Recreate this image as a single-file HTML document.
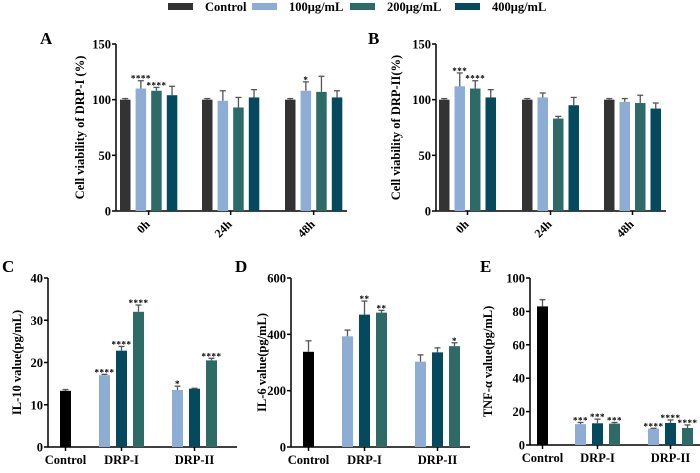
<!DOCTYPE html>
<html><head><meta charset="utf-8">
<style>
html,body{margin:0;padding:0;background:#fff;}
svg, svg text{font-family:"Liberation Serif","DejaVu Serif","Times New Roman",serif;font-weight:bold;}
</style></head>
<body>
<svg id="fig" width="700" height="468" viewBox="0 0 700 468" xmlns="http://www.w3.org/2000/svg"></svg>
<script>
const colors = ["#333333","#8eadd4","#2e6b66","#04495e","#000000"];
const legendLabels = ["Control","100μg/mL","200μg/mL","400μg/mL"];

// Panel A
const aCats = ["0h","24h","48h"];
const aMeans = [[100,110,108,104],[100,99,93,102],[100,108,107,102]];
const aErr = [[101,117,111,112],[101,108,102,109],[101,116,121,108]];
const aSig = [["","****","****",""],["","","",""],["","*","",""]];
const aTicks = [0,50,100,150];
// Panel B
const bMeans = [[100,112,110,102],[100,102,83,95],[100,98,97,92]];
const bErr = [[101,124,117,109],[101,106,85,102],[101,101,104,97]];
const bSig = [["","***","****",""],["","","",""],["","","",""]];
// Panel C
const cdeCats = ["Control","DRP-I","DRP-II"];
const cMeans = [[13.3],[17,22.8,32],[13.5,13.8,20.5]];
const cErr = [[13.6],[17.2,23.8,33.6],[14.4,13.9,21]];
const cSig = [[""],["****","****","****"],["*","","****"]];
const cTicks = [0,10,20,30,40];
// Panel D
const dMeans = [[338],[393,470,477],[303,336,358]];
const dErr = [[377],[415,518,485],[327,352,370]];
const dSig = [[""],["","**","**"],["","","*"]];
const dTicks = [0,200,400,600];
// Panel E
const eMeans = [[83],[12.5,13,12.8],[9.8,13.2,10.2]];
const eErr = [[87],[13.5,15.5,13.5],[10,15,12]];
const eSig = [[""],["***","***","***"],["****","****","****"]];
const eTicks = [0,20,40,60,80,100];

const svg = document.getElementById('fig');
const NS = "http://www.w3.org/2000/svg";
const FF = '"Liberation Serif","DejaVu Serif",serif';
function mk(tag, attrs, parent){
  const e = document.createElementNS(NS, tag);
  for (const k in attrs) e.setAttribute(k, attrs[k]);
  if (tag === 'text'){ e.setAttribute('font-family', FF); e.setAttribute('font-weight','bold'); }
  (parent||svg).appendChild(e);
  return e;
}

// Legend
const legX = [168,252,350,455];
legendLabels.forEach((lab,i)=>{
  const g = mk('g',{});
  
  
  mk('rect',{x:legX[i],y:3,width:25,height:7,fill:colors[i]},g);
  const t = mk('text',{x:legX[i]+37,y:11,'font-size':'12.5'},g);
  t.textContent = lab;
});

function panel(o){
  const g = mk('g',{});
  
  
  const ymax = o.ticks[o.ticks.length-1];
  const y = v => o.y0 - (v/ymax)*(o.y0-o.yTop);
  const L = mk('text',{x:o.letterX,y:o.letterY,'font-size':'17'},g);
  L.textContent = o.letter;
  
  
  const yt = mk('text',{x:o.titleX,y:(o.y0+o.yTop)/2,'font-size':'12.5','text-anchor':'middle',transform:`rotate(-90 ${o.titleX} ${(o.y0+o.yTop)/2})`},g);
  yt.textContent = o.title;
  
  
  mk('line',{x1:o.ax,y1:o.yTop,x2:o.ax,y2:o.y0,stroke:'#000','stroke-width':1.5},g);
  mk('line',{x1:o.ax,y1:o.y0,x2:o.axEnd,y2:o.y0,stroke:'#000','stroke-width':1.5},g);
  o.ticks.forEach(t=>{
    mk('line',{x1:o.ax-4,y1:y(t),x2:o.ax,y2:y(t),stroke:'#000','stroke-width':1.5},g);
    const tl = mk('text',{x:o.ax-5,y:y(t)+4.5,'font-size':'12.5','text-anchor':'end'},g);
    tl.textContent = t;
    
    
  });
  o.means.forEach((grp,gi)=>{
    grp.forEach((v,bi)=>{
      const x = o.groupX[gi] + bi*o.step;
      const ci = o.colorIdx[gi][bi];
      const bar = mk('rect',{x:x,y:y(v),width:o.bw,height:o.y0-y(v),fill:colors[ci]},g);
      
      
      const cx = x+o.bw/2, e = o.err[gi][bi];
      mk('line',{x1:cx,y1:y(v),x2:cx,y2:y(e),stroke:'#555','stroke-width':1.3},g);
      mk('line',{x1:cx-3,y1:y(e),x2:cx+3,y2:y(e),stroke:'#555','stroke-width':1.3},g);
      const s = o.sig[gi][bi];
      if (s){
        const st = mk('text',{x:cx,y:y(e)+1,'font-size':'9','text-anchor':'middle','letter-spacing':'0.5'},g);
        st.textContent = s;
        
        
      }
    });
    const center = o.groupX[gi] + ((grp.length-1)*o.step + o.bw)/2;
    mk('line',{x1:center,y1:o.y0,x2:center,y2:o.y0+4,stroke:'#000','stroke-width':1.5},g);
    let xl;
    if (o.rot){
      xl = mk('text',{x:center+2,y:o.y0+14,'font-size':'12','text-anchor':'end',transform:`rotate(-45 ${center+2} ${o.y0+14})`},g);
    } else {
      xl = mk('text',{x:center,y:o.y0+17,'font-size':'12.5','text-anchor':'middle'},g);
    }
    xl.textContent = o.cats[gi];
    
    
  });
}

const c4 = [[0,1,2,3],[0,1,2,3],[0,1,2,3]];
const c3 = [[4],[1,3,2],[1,3,2]];
panel({name:'panel-a',letter:'A',letterX:40,letterY:44,title:'Cell viability of DRP-I (%)',titleX:84,
  ax:116,axEnd:347,yTop:44,y0:211,ticks:aTicks,cats:aCats,means:aMeans,err:aErr,sig:aSig,
  groupX:[120,202,285],step:15.6,bw:10.5,colorIdx:c4,rot:true});
panel({name:'panel-b',letter:'B',letterX:368,letterY:44,title:'Cell viability of DRP-II(%)',titleX:400,
  ax:436,axEnd:666,yTop:44,y0:211,ticks:aTicks,cats:aCats,means:bMeans,err:bErr,sig:bSig,
  groupX:[439,522,604],step:15.5,bw:10.5,colorIdx:c4,rot:true});
panel({name:'panel-c',letter:'C',letterX:2,letterY:272,title:'IL-10 value(pg/mL)',titleX:21,
  ax:48,axEnd:237,yTop:278,y0:447,ticks:cTicks,cats:cdeCats,means:cMeans,err:cErr,sig:cSig,
  groupX:[60,99,172],step:17,bw:11,colorIdx:c3,rot:false});
panel({name:'panel-d',letter:'D',letterX:235,letterY:272,title:'IL-6 value(pg/mL)',titleX:266,
  ax:291,axEnd:470,yTop:278,y0:447,ticks:dTicks,cats:cdeCats,means:dMeans,err:dErr,sig:dSig,
  groupX:[303,342,415],step:17,bw:11,colorIdx:c3,rot:false});
panel({name:'panel-e',letter:'E',letterX:480,letterY:272,title:'TNF-α value(pg/mL)',titleX:492,
  ax:530,axEnd:700,yTop:278,y0:445,ticks:eTicks,cats:cdeCats,means:eMeans,err:eErr,sig:eSig,
  groupX:[537,575,648],step:17,bw:11,colorIdx:c3,rot:false});
</script>
</body></html>
